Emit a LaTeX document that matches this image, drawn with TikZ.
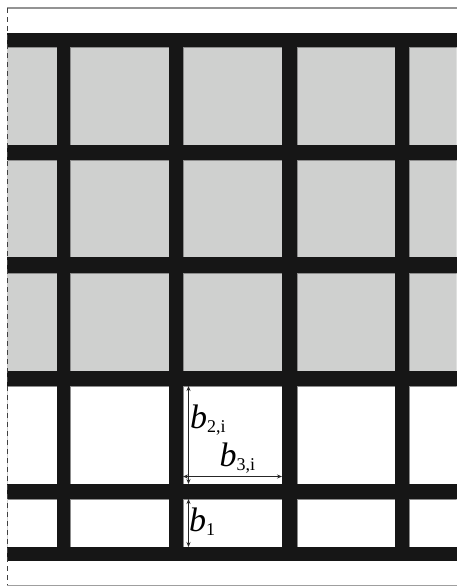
\documentclass[tikz,border=0pt]{standalone}
\usepackage{fontspec}
\setmainfont{Liberation Serif}
\usetikzlibrary{arrows.meta}
\definecolor{barblack}{RGB}{22,22,22}
\definecolor{cellgray}{RGB}{207,208,207}
\definecolor{edgegray}{RGB}{140,140,140}
\newcommand{\blabel}[1]{{\fontsize{34}{34}\selectfont\itshape b}\raisebox{-4pt}{\fontsize{18}{18}\selectfont #1}}
\begin{document}
\begin{tikzpicture}[x=1pt,y=-1pt,
  bar/.style={fill=barblack,draw=none},
  cellg/.style={fill=cellgray,draw=edgegray,line width=0.8pt},
  cellw/.style={fill=white,draw=edgegray,line width=0.8pt},
  dim/.style={draw=black!85,line width=0.8pt,{Stealth[length=5pt,width=4pt]}-{Stealth[length=5pt,width=4pt]}},
  lbl/.style={anchor=base west,inner sep=0pt,outer sep=0pt}]
\useasboundingbox (0,0) rectangle (457,587);
\fill[white] (0,0) rectangle (457,587);
% cells
\begin{scope}
\clip (7.6,0) rectangle (456.6,587);
\foreach \xa/\xb in {7/57,70/169,183/282,297/395,409/457}{
  \foreach \ya/\yb in {47/145,160/257,273/371}{
    \draw[cellg] (\xa,\ya) rectangle (\xb,\yb);
  }
  \foreach \ya/\yb in {386/484,499/547}{
    \draw[cellw] (\xa,\ya) rectangle (\xb,\yb);
  }
}
\end{scope}
% bars
\foreach \ya/\yb in {33/47,145/160,257/273,371/386,484/499,547/561}{
  \fill[bar] (7,\ya) rectangle (457,\yb);
}
\foreach \xa/\xb in {57/70,169/183,282/297,395/409}{
  \fill[bar] (\xa,33) rectangle (\xb,561);
}
% frame
\draw[gray!85, line width=1.2pt] (7,8) -- (457,8);
\draw[gray!75, line width=1.6pt] (7,585.5) -- (457,585.5);
\draw[black!75, line width=0.9pt, dash pattern=on 5pt off 4pt] (7,8) -- (7,585);
% dimension arrows
\coordinate (v2t) at (188.5,386);
\coordinate (v2b) at (188.5,484);
\coordinate (h3l) at (183,476.5);
\coordinate (h3r) at (282,476.5);
\coordinate (v1t) at (188.5,499);
\coordinate (v1b) at (188.5,547);
\draw[dim] (v2t) -- (v2b);
\draw[dim] (h3l) -- (h3r);
\draw[dim] (v1t) -- (v1b);
% labels
\node[lbl] (lb2) at (190,428.3) {\blabel{2,i}};
\node[lbl] (lb3) at (219.5,466) {\blabel{3,i}};
\node[lbl] (lb1) at (189,531.5) {\blabel{1}};
\end{tikzpicture}
\end{document}
